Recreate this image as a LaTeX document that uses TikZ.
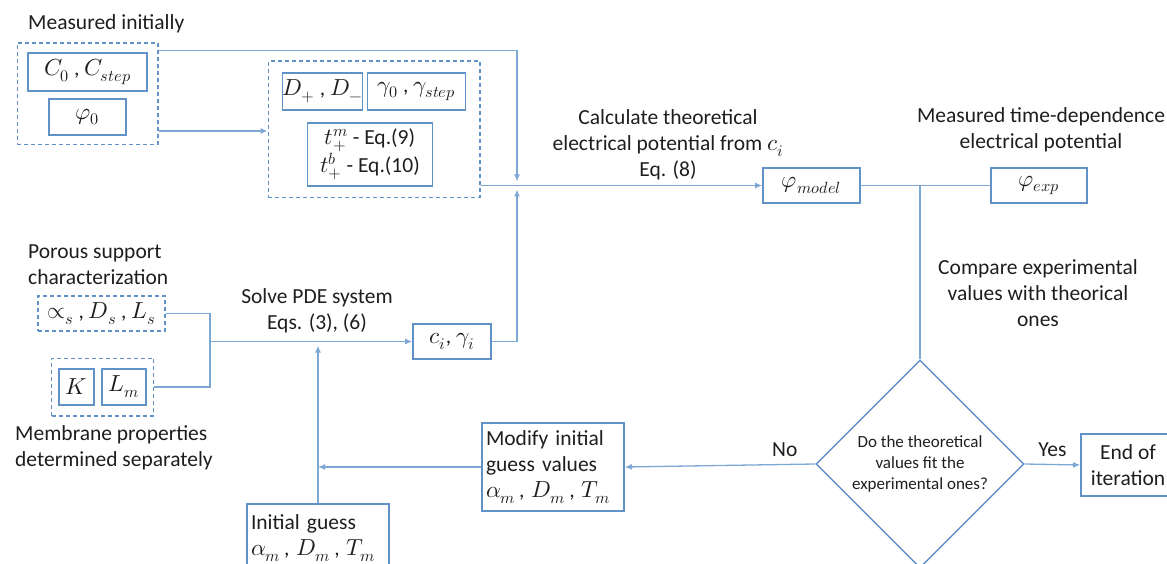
\documentclass[tikz,border=0pt]{standalone}
\usepackage{fontspec}
\setmainfont{Carlito}
\usepackage{unicode-math}
\setmathfont{Latin Modern Math}[Scale=1.08]
\usetikzlibrary{arrows.meta, positioning, calc, fit, shapes.geometric}

\definecolor{boxblue}{RGB}{96,146,200}
\definecolor{lineblue}{RGB}{125,168,212}
\definecolor{txtgray}{RGB}{30,30,30}

\begin{document}
\begin{tikzpicture}[
    x=1pt, y=-1pt,
    font=\fontsize{21.5}{26}\selectfont,
    text=txtgray,
    >={Latex[length=7pt,width=6pt]},
    block/.style={
      draw=boxblue,
      line width=1.6pt,
      align=center,
      inner sep=0pt
    },
    dashedblock/.style={
      draw=boxblue,
      line width=1.4pt,
      dash pattern=on 4pt off 3pt,
      align=center,
      inner sep=0pt
    },
    groupbox/.style={
      draw=boxblue,
      line width=1.4pt,
      dash pattern=on 4pt off 3pt
    },
    decision/.style={
      diamond,
      aspect=1,
      draw=boxblue,
      line width=1.4pt,
      inner sep=0pt,
      minimum width=208pt,
      minimum height=208pt,
      align=center,
      font=\fontsize{17}{21}\selectfont
    },
    note/.style={align=center, inner sep=0pt},
    link/.style={draw=lineblue, line width=1.3pt},
    arrow/.style={->, draw=lineblue, line width=1.3pt}
]
\useasboundingbox (0,0) rectangle (1167,564);

% measured inputs
\node[note, anchor=west] (measlbl) at (28,24) {Measured initially};
\node[block, minimum width=119pt, minimum height=38pt] (conc) at (87.5,72) {$C_0$ , $C_{step}$};
\node[block, minimum width=77pt, minimum height=36pt] (phizero) at (87.5,117) {$\varphi_0$};
\node[groupbox, fit=(conc)(phizero), inner xsep=10pt, inner ysep=9pt] (grpA) {};

% transport parameters
\node[block, minimum width=74pt, minimum height=37pt] (diff) at (322.5,91.5) {$D_+$ , $D_-$};
\node[block, minimum width=98pt, minimum height=37pt] (gam) at (416.5,91.5) {$\gamma_0$ , $\gamma_{step}$};
\node[block, minimum width=125pt, minimum height=63pt] (trans) at (370,154.5) {$t_+^m$ - Eq.(9)\\$t_+^b$ - Eq.(10)};
\node[groupbox, fit=(diff)(gam)(trans), inner xsep=13.5pt, inner ysep=11pt] (grpB) {};

% model vs experiment
\node[note] (calclbl) at (668,145) {Calculate theoretical\\electrical potential from $c_i$\\Eq. (8)};
\node[block, minimum width=97pt, minimum height=35pt] (phimod) at (811.5,185.5) {$\varphi_{model}$};
\node[note] (explbl) at (1041,130) {Measured time-dependence\\electrical potential};
\node[block, minimum width=96pt, minimum height=35pt] (phiexp) at (1039,185.5) {$\varphi_{exp}$};
\node[note] (cmplbl) at (1038,293) {Compare experimental\\values with theorical\\ones};

% support and membrane
\node[note, align=left, anchor=west] (porlbl) at (28,265) {Porous support\\characterization};
\node[dashedblock, minimum width=127pt, minimum height=35pt] (alphs) at (101.5,313.5) {$\propto_s$ , $D_s$ , $L_s$};
\node[block, minimum width=35pt, minimum height=36pt] (kpar) at (76.5,387) {$K$};
\node[block, minimum width=44pt, minimum height=36pt] (lmem) at (124,387) {$L_m$};
\node[groupbox, fit=(kpar)(lmem), inner xsep=6.5pt, inner ysep=10pt] (grpK) {};
\node[note, align=left, anchor=west] (memlbl) at (15,448) {Membrane properties\\determined separately};

% PDE solve and iteration
\node[note] (solvelbl) at (317,311) {Solve PDE system\\Eqs. (3), (6)};
\node[block, minimum width=78pt, minimum height=35pt] (ci) at (452,341.5) {$c_i$, $\gamma_i$};
\node[block, align=left, text width=134pt, inner xsep=4pt, minimum height=88pt] (modify) at (553,467) {Modify initial\\guess values\\$\alpha_m$\,, $D_m$\,, $T_m$};
\node[block, align=left, text width=134pt, inner xsep=4pt, minimum height=68pt] (initg) at (318,538) {Initial guess\\$\alpha_m$\,, $D_m$\,, $T_m$};
\node[decision] (dec) at (920,464) {Do the theoretical\\values fit the\\experimental ones?};
\node[block, minimum width=94pt, minimum height=62pt] (endbox) at (1128,465) {End of\\iteration};

% helper points
\coordinate (jn) at (517,0 |- phimod);
\coordinate (bus) at (210,0 |- ci);
\coordinate (pde) at (initg.north |- ci);
\coordinate (aout) at ([yshift=-37pt]grpA.east);

% connectors
\draw[arrow] ([yshift=-8pt]grpA.north east) -| ([yshift=4pt]jn);
\draw[arrow] (aout) -- (aout -| grpB.west);
\draw[arrow] (grpB.east |- phimod) -- (phimod.west);
\draw[link] (phimod.east) -- (phiexp.west);
\draw[link] (dec.north |- phimod) -- (dec.north);
\draw[link] (alphs.east) -| (bus) |- (grpK.east);
\draw[arrow] (bus) -- (ci.west);
\draw[arrow] (ci.east) -| ([yshift=-4pt]jn);
\draw[arrow] (initg.north) -- ([yshift=-4pt]pde);
\draw[arrow] (modify.west) -- (modify.west -| initg.north);
\draw[arrow] (dec.west) -- node[above=4pt, pos=0.16]{No} (modify.east);
\draw[arrow] (dec.east) -- node[above=4pt]{Yes} (endbox.west);
\end{tikzpicture}
\end{document}
